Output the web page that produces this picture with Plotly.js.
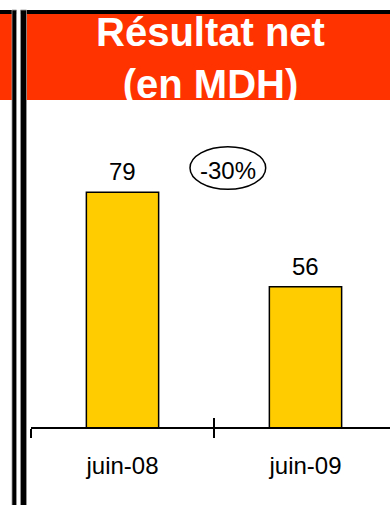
<!DOCTYPE html>
<html><head><meta charset="utf-8">
<script src="https://cdn.plot.ly/plotly-3.0.1.min.js"></script>
<style>html,body{margin:0;padding:0;background:#fff;}#chart{width:390px;height:505px;}</style>
</head><body><div id="chart"></div>
<script>
const categories = ['juin-08', 'juin-09'];
const values = [79, 56];
const valueLabels = ['79', '56'];
const changeLabel = '-30%';
const titleText = 'Résultat net<br>(en MDH)';

const W = 390, H = 505;
const M = {l: 31, r: 0, t: 100, b: 78};
const PW = W - M.l - M.r, PH = H - M.t - M.b;
const px = x => (x - M.l) / PW;
const py = y => (H - M.b - y) / PH;
const FONT = 'Liberation Sans, Arial, sans-serif';

function rect(x0, y0, x1, y1, fill, line) {
  return {type: 'rect', xref: 'paper', yref: 'paper', x0: px(x0), x1: px(x1), y0: py(y0), y1: py(y1),
    fillcolor: fill, line: line || {width: 0}, layer: 'above'};
}

const shapes = [
  rect(26, 14, 392, 100, '#FF3300'),
  rect(-2, 14, 12, 100, '#FF3300'),
  rect(20.5, 10, 392, 14, '#000000'),
  rect(-2, 10, 16.5, 14, '#000000'),
  rect(12, 10, 16.5, 507, '#000000', {color: '#9a9a9a', width: 0.8}),
  rect(20.5, 10, 26.5, 507, '#000000', {color: '#9a9a9a', width: 0.8}),
  {type: 'circle', xref: 'paper', yref: 'paper', x0: px(190), x1: px(265.7), y0: py(189.3), y1: py(146.7),
   line: {color: '#000', width: 1.5}, fillcolor: 'rgba(0,0,0,0)', layer: 'above'}
];

const annotations = [
  {xref: 'paper', yref: 'paper', x: px(210.5), y: py(58), xanchor: 'center', yanchor: 'middle',
   text: '<b>' + titleText + '</b>', showarrow: false, font: {family: FONT, size: 40, color: '#fff'}},
  {xref: 'paper', yref: 'paper', x: px(227.7), y: py(170.5), xanchor: 'center', yanchor: 'middle',
   text: changeLabel, showarrow: false, font: {family: FONT, size: 24, color: '#000'}}
];
categories.forEach((c, i) => annotations.push({
  x: c, y: values[i], xref: 'x', yref: 'y', text: valueLabels[i], showarrow: false,
  yanchor: 'bottom', yshift: 5, font: {family: FONT, size: 24, color: '#000'}
}));

const xrange = [-0.5, -0.5 + PW / 183];
const traces = [
  {type: 'bar', x: categories, y: values, width: 0.395,
   marker: {color: '#FFCC00', line: {color: '#000', width: 1.5}}, hoverinfo: 'skip'},
  {type: 'scatter', x: categories, y: values, mode: 'markers', marker: {opacity: 0, size: 1},
   xaxis: 'x2', yaxis: 'y', hoverinfo: 'skip', showlegend: false}
];

const layout = {
  width: W, height: H, margin: M, showlegend: false,
  paper_bgcolor: '#fff', plot_bgcolor: '#fff',
  xaxis: {type: 'category', categoryarray: categories, range: xrange, tickson: 'boundaries',
    ticks: 'outside', ticklen: 9, tickwidth: 1.2, tickcolor: '#000', showline: true, linecolor: '#000', linewidth: 1.5,
    showgrid: false, zeroline: false, tickfont: {family: FONT, size: 24, color: '#000'}, ticklabelstandoff: 17, fixedrange: true},
  xaxis2: {type: 'category', categoryarray: categories, overlaying: 'x', anchor: 'y', side: 'bottom', range: xrange,
    tickson: 'boundaries', ticks: 'inside', ticklen: 9, tickwidth: 1.2, tickcolor: '#000', showticklabels: false,
    showline: false, showgrid: false, zeroline: false, fixedrange: true},
  yaxis: {range: [21.8, 101.5], visible: false, showgrid: false, zeroline: false, fixedrange: true},
  shapes: shapes, annotations: annotations
};
Plotly.newPlot('chart', traces, layout, {displayModeBar: false, staticPlot: true});
</script></body></html>
